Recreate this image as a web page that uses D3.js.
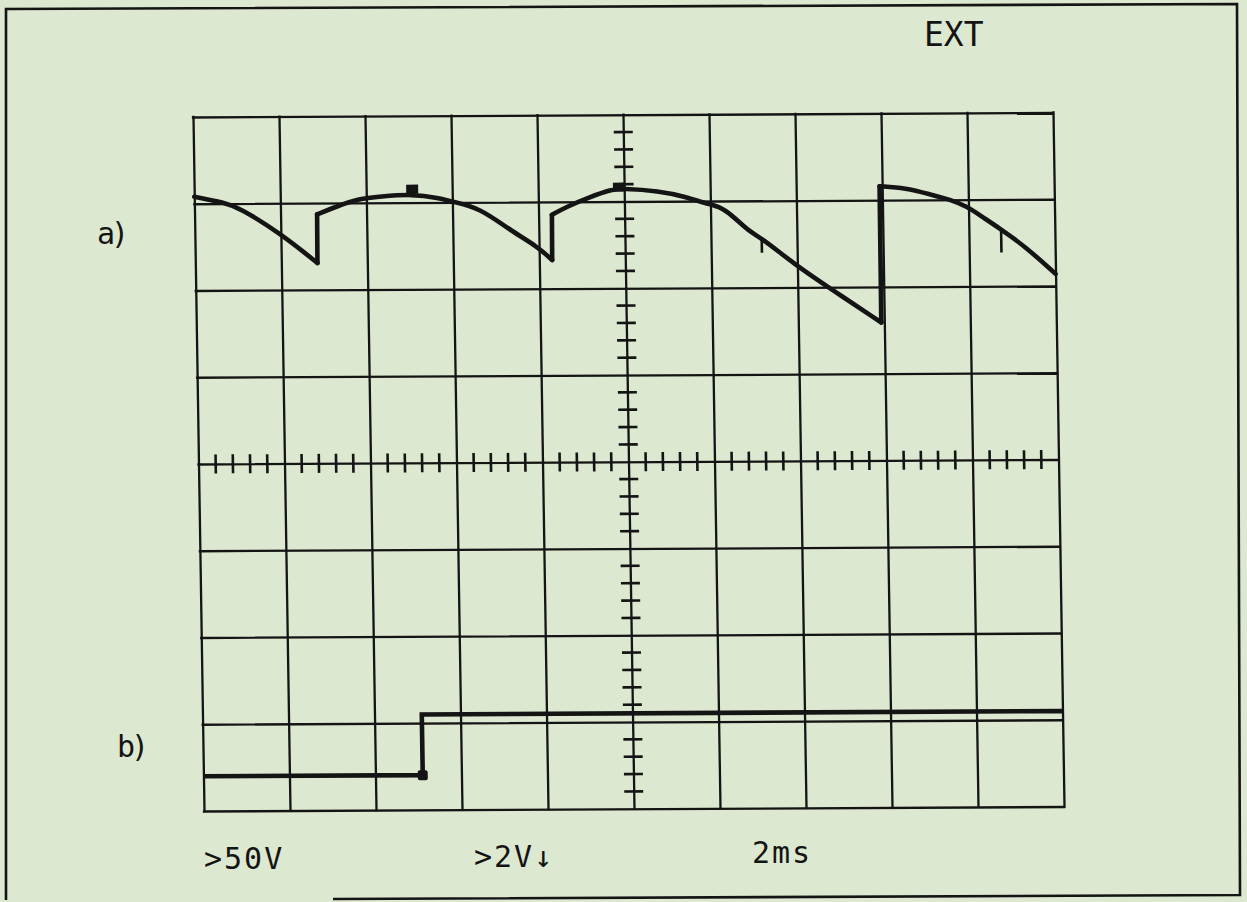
<!DOCTYPE html>
<html><head><meta charset="utf-8">
<script src="https://cdn.jsdelivr.net/npm/d3@7/dist/d3.min.js"></script>
<style>html,body{margin:0;padding:0;background:#dce8d0;} svg{display:block}</style>
</head><body>
<svg id="c" width="1247" height="902"></svg>
<script>
// time axis: 2 ms/div, 10 divisions; vertical: 8 divisions (values in divisions, 0 = centre line)
const gridTimes = [0, 2, 4, 6, 8, 10, 12, 14, 16, 18, 20];
const gridLevels = [-4, -3, -2, -1, 0, 1, 2, 3, 4];

// trace a) (50 V/div) — time (ms) and level (div)
const traceA_t = [0.00, 0.70, 1.05, 1.97, 2.84, 2.85, 3.30, 3.84, 4.31, 5.07, 5.70, 5.98, 6.62, 7.38, 7.95, 8.30,
                  8.31, 8.64, 9.18, 9.72, 9.92, 10.81, 11.43, 11.91, 12.19, 12.49, 12.88, 13.18, 13.95, 14.71, 15.93,
                  15.94, 16.54, 17.14, 17.60, 17.97, 18.29, 18.68, 19.30, 20.00];
const traceA_v = [3.08, 3.01, 2.95, 2.66, 2.31, 2.87, 2.96, 3.05, 3.07, 3.10, 3.05, 3.01, 2.94, 2.66, 2.49, 2.33,
                  2.85, 2.94, 3.05, 3.14, 3.15, 3.12, 3.05, 2.97, 2.94, 2.84, 2.65, 2.57, 2.26, 2.00, 1.59,
                  3.16, 3.14, 3.06, 3.00, 2.92, 2.81, 2.68, 2.46, 2.14];
// small downward glitches on trace a)
const spikeT = [13.18, 18.75];
const spikeTop = [2.57, 2.66];
const spikeBottom = [2.40, 2.39];
// cursor marks on trace a)
const markA_t = [5.07, 9.88];
const markA_v = [3.15, 3.16];

// trace b) (2 V/div) — step
const traceB_t = [0.00, 5.10, 5.10, 20.00];
const traceB_v = [-3.60, -3.60, -2.90, -2.90];
const markB_t = [5.10];
const markB_v = [-3.60];

// labels
const labels = ["EXT", "a)", "b)", ">50V", ">2V\u2193", "2ms"];

const W = 860, H = 694;
const ink = "#141414";
const svg = d3.select("#c");

// outer frame of the photographed sheet
svg.append("path")
  .attr("d", "M333,899 L1240,895 L1237,4 L6,9 L6,900")
  .attr("fill", "none").attr("stroke", ink).attr("stroke-width", 2.6);

const g = svg.append("g").attr("transform", "matrix(1,-0.00523,0.01585,1,193,117)");

const x = d3.scaleLinear().domain([0, 20]).range([0, W]);
const y = d3.scaleLinear().domain([-4, 4]).range([H, 0]);

// graticule via axes
const gx = g.append("g")
  .call(d3.axisBottom(x).tickValues(gridTimes).tickSize(H).tickSizeOuter(0).tickFormat(""));
const gy = g.append("g")
  .call(d3.axisRight(y).tickValues(gridLevels).tickSize(W).tickSizeOuter(0).tickFormat(""));
[gx, gy].forEach(a => {
  a.select(".domain").remove();
  a.selectAll(".tick text").remove();
  a.selectAll(".tick line").attr("stroke", ink).attr("stroke-width", 2.3).attr("stroke-linecap", "square");
});

// minor ticks on the centre lines
const minorT = d3.range(0, 20.001, 0.4).filter(t => Math.abs(t / 2 - Math.round(t / 2)) > 1e-6);
const minorV = d3.range(-4, 4.001, 0.2).filter(v => Math.abs(v - Math.round(v)) > 1e-6);
const tickHalf = 9.5;
g.append("g").selectAll("line").data(minorT).join("line")
  .attr("x1", d => x(d)).attr("x2", d => x(d))
  .attr("y1", y(0) - tickHalf).attr("y2", y(0) + tickHalf)
  .attr("stroke", ink).attr("stroke-width", 2.6);
g.append("g").selectAll("line").data(minorV).join("line")
  .attr("x1", x(10) - tickHalf).attr("x2", x(10) + tickHalf)
  .attr("y1", d => y(d)).attr("y2", d => y(d))
  .attr("stroke", ink).attr("stroke-width", 2.6);

// trace a): smooth arcs between the vertical firing jumps
const ptsA = traceA_t.map((t, i) => [t, traceA_v[i]]);
const segs = [[ptsA[0]]];
for (let i = 1; i < ptsA.length; i++) {
  if (ptsA[i][0] - ptsA[i - 1][0] < 0.05) segs.push([]);
  segs[segs.length - 1].push(ptsA[i]);
}
const smooth = d3.line().x(d => x(d[0])).y(d => y(d[1])).curve(d3.curveBasis);
const straight = d3.line().x(d => x(d[0])).y(d => y(d[1]));
const gA = g.append("g").attr("fill", "none").attr("stroke", ink).attr("stroke-width", 4.6)
  .attr("stroke-linecap", "round").attr("stroke-linejoin", "round");
gA.selectAll("path.seg").data(segs).join("path").attr("class", "seg").attr("d", smooth);
gA.selectAll("path.jump").data(segs.slice(1).map((s, i) => [segs[i][segs[i].length - 1], s[0]]))
  .join("path").attr("class", "jump").attr("d", straight);
g.append("g").selectAll("line").data(spikeT).join("line")
  .attr("x1", d => x(d)).attr("x2", d => x(d))
  .attr("y1", (d, i) => y(spikeTop[i])).attr("y2", (d, i) => y(spikeBottom[i]))
  .attr("stroke", ink).attr("stroke-width", 2.6);
g.append("g").selectAll("rect").data(markA_t).join("rect")
  .attr("x", d => x(d) - 6).attr("y", (d, i) => y(markA_v[i]) - 5)
  .attr("width", 12).attr("height", 9).attr("fill", ink);

// trace b)
const ptsB = traceB_t.map((t, i) => [t, traceB_v[i]]);
g.append("path").attr("d", straight(ptsB)).attr("fill", "none")
  .attr("stroke", ink).attr("stroke-width", 4.6).attr("stroke-linejoin", "miter");
g.append("g").selectAll("rect").data(markB_t).join("rect")
  .attr("x", d => x(d) - 5).attr("y", (d, i) => y(markB_v[i]) - 5)
  .attr("width", 10).attr("height", 10).attr("rx", 2).attr("fill", ink);

// texts
const font = "'DejaVu Sans Mono', monospace";
const txt = [
  {s: labels[0], x: 924, y: 46, fs: 33, ls: 0},
  {s: labels[1], x: 97, y: 244, fs: 30, ls: -4},
  {s: labels[2], x: 117, y: 757, fs: 30, ls: -4},
  {s: labels[3], x: 204, y: 869, fs: 30, ls: 2},
  {s: labels[4], x: 474, y: 867, fs: 30, ls: 2},
  {s: labels[5], x: 752, y: 863, fs: 30, ls: 2}
];
svg.append("g").selectAll("text").data(txt).join("text")
  .attr("x", d => d.x).attr("y", d => d.y)
  .attr("font-family", font).attr("font-size", d => d.fs)
  .attr("letter-spacing", d => d.ls)
  .attr("fill", ink).text(d => d.s);
</script>
</body></html>
